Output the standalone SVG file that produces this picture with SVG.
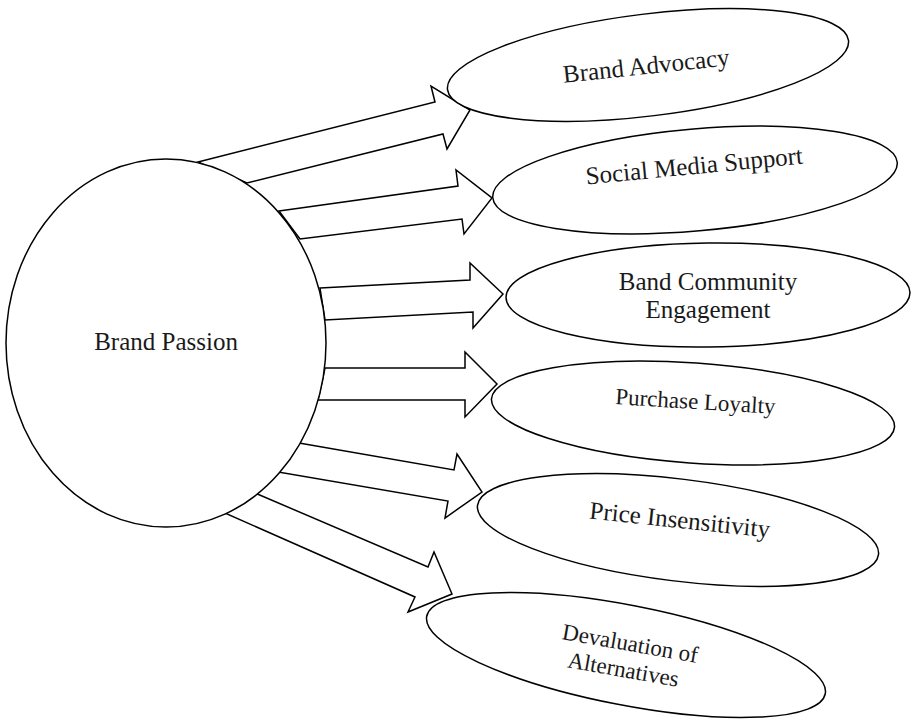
<svg xmlns="http://www.w3.org/2000/svg" width="912" height="720" viewBox="0 0 912 720">
<style>
.s{fill:#fff;stroke:#000;stroke-width:1.5;stroke-linejoin:miter}
.t{font-family:"Liberation Serif","Times New Roman",serif;font-size:25px;fill:#1a1a1a;text-anchor:middle}
.t23{font-size:23px}
</style>
<rect width="912" height="720" fill="#fff"/>
<g id="connectors">
<polygon class="s" points="198,162 435,102 431,86 470,110 447,149 443,134 247,183"/>
<polygon class="s" points="279,211 458,186 456,170 492,198 464,234 462,219 300,239"/>
<polygon class="s" points="320,288 470,280 470,263 503,294 473,328 473,312 325,320"/>
<polygon class="s" points="325,368 465,368 465,352 497,384 465,417 465,400 318,400"/>
<polygon class="s" points="299,443 454,470 457,454 482,492 445,518 448,501 278,472"/>
<polygon class="s" points="255,493 428,567 434,552 452,594 408,612 415,597 218,510"/>
</g>
<g id="brand-passion">
<ellipse class="s" cx="166" cy="343" rx="160" ry="184"/>
<text class="t" x="166" y="350">Brand Passion</text>
</g>
<g id="brand-advocacy">
<ellipse class="s" cx="648" cy="65" rx="202" ry="51" transform="rotate(-7 648 65)"/>
<text class="t" x="647" y="74" transform="rotate(-6 647 74)">Brand Advocacy</text>
</g>
<g id="social-media-support">
<ellipse class="s" cx="695" cy="180" rx="203" ry="51" transform="rotate(-5 695 180)"/>
<text class="t" x="695" y="174" transform="rotate(-5.5 695 174)">Social Media Support</text>
</g>
<g id="band-community-engagement">
<ellipse class="s" cx="708" cy="295" rx="202" ry="52" transform="rotate(-0.7 708 295)"/>
<text class="t" x="708" y="290">Band Community</text>
<text class="t" x="708" y="318">Engagement</text>
</g>
<g id="purchase-loyalty">
<ellipse class="s" cx="693" cy="413" rx="202" ry="50" transform="rotate(4 693 413)"/>
<text class="t t23" x="695" y="409" transform="rotate(3.5 695 409)">Purchase Loyalty</text>
</g>
<g id="price-insensitivity">
<ellipse class="s" cx="678" cy="530" rx="202" ry="51" transform="rotate(7 678 530)"/>
<text class="t" x="679" y="528" transform="rotate(6 679 528)">Price Insensitivity</text>
</g>
<g id="devaluation-of-alternatives">
<ellipse class="s" cx="626" cy="655" rx="203" ry="50" transform="rotate(11 626 655)"/>
<text class="t t23" x="629" y="651" transform="rotate(10 629 651)">Devaluation of</text>
<text class="t t23" x="622" y="677" transform="rotate(10 622 677)">Alternatives</text>
</g>
</svg>
